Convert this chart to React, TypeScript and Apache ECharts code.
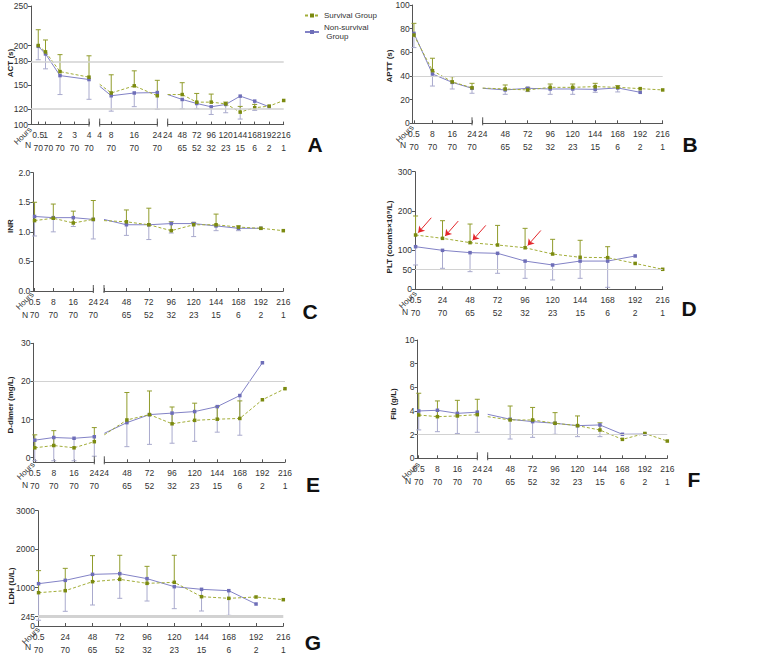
import React, { useEffect, useRef } from "react";
import * as echarts from "echarts";

type Num = number | null;

const SURV = "Survival Group";
const NON = "Non-survival\n Group";

// ---------------- shared time points ----------------
const hoursLate = [24, 48, 72, 96, 120, 144, 168, 192, 216];
const nLate: Num[] = [null, 65, 52, 32, 23, 15, 6, 2, 1];
const hoursEarly = [0.5, 8, 16, 24];
const nEarly: Num[] = [70, 70, 70, 70];
const hoursFull = [0.5, 24, 48, 72, 96, 120, 144, 168, 192, 216];
const nFull: Num[] = [70, 70, 65, 52, 32, 23, 15, 6, 2, 1];

// ---------------- A: ACT (s) ----------------
const hoursA1 = [0.5, 1, 2, 3, 4];
const nA1: Num[] = [70, 70, 70, 70, 70];
const survA1: Num[] = [200, 192, 167, null, 160];
const survHiA1: Num[] = [220, 207, 188.5, null, 187];
const nonA1: Num[] = [199, 189.4, 162, null, 157];
const nonLoA1: Num[] = [182, 170.5, 138, null, 132];

const hoursA2 = [4, 8, 16, 24];
const nA2: Num[] = [null, 70, 70, 70];
const survA2: Num[] = [151, 140, 149, 136.5];
const survHiA2: Num[] = [null, 163, 168, 156];
const nonA2: Num[] = [148.5, 136.5, 140, 140.5];
const nonLoA2: Num[] = [null, 117, 122.7, 119.4];

const survA3: Num[] = [138, 138, 128.4, 128.4, 126.3, 115.8, 121.3, 123.4, 130.5];
const survHiA3: Num[] = [null, 153, 139.4, 138.6, 128.5, 123, 125.5, null, null];
const nonA3: Num[] = [138, 131.8, 126.7, 122.5, 125.5, 136, 129.7, 122.5, null];
const nonLoA3: Num[] = [null, 120, 120, 112.8, 115, 107, 118, null, null];
const yTicksA = [100, 120, 150, 180, 200, 250];
const refA = [120, 180];

// ---------------- B: APTT (s) ----------------
const survB1: Num[] = [74.6, 44.5, 35, 30];
const survHiB1: Num[] = [84.5, 55, 39.4, 33.8];
const nonB1: Num[] = [76, 41.7, 34.6, 29.6];
const nonLoB1: Num[] = [64, 31.5, 29, 25.4];
const survB2: Num[] = [29.8, 29, 28.2, 30.4, 30.4, 31, 30.4, 29.3, 28.2];
const survHiB2: Num[] = [null, 32.4, 30.4, 33.2, 33.2, 33.8, 31.8, null, null];
const nonB2: Num[] = [29.6, 28.2, 29.6, 29, 29, 28.7, 29.9, 26.2, null];
const nonLoB2: Num[] = [null, 24.5, 26.8, 24.5, 24.5, 26.2, 26.5, null, null];
const yTicksB = [0, 20, 40, 60, 80, 100];
const refB = [40];

// ---------------- C: INR ----------------
const survC1: Num[] = [1.19, 1.23, 1.15, 1.21];
const survHiC1: Num[] = [1.5, 1.47, 1.35, 1.53];
const nonC1: Num[] = [1.26, 1.24, 1.24, 1.21];
const nonLoC1: Num[] = [0.93, 1.0, 1.09, 0.88];
const survC2: Num[] = [1.19, 1.17, 1.12, 1.02, 1.12, 1.12, 1.08, 1.06, 1.02];
const survHiC2: Num[] = [null, 1.37, 1.4, 1.17, 1.16, 1.3, 1.1, null, null];
const nonC2: Num[] = [1.21, 1.12, 1.12, 1.14, 1.14, 1.1, 1.06, 1.06, null];
const nonLoC2: Num[] = [null, 0.94, 0.87, 0.98, 0.92, 1.02, 1.02, null, null];
const yTicksC = [0, 0.5, 1, 1.5, 2];
const refC: number[] = [];

// ---------------- D: PLT ----------------
const survD: Num[] = [138.5, 130, 119, 113, 106, 90, 81.6, 80.7, 66, 51];
const survHiD: Num[] = [187, 175, 166.5, 163, 155.5, 127.5, 125, 108.7, null, null];
const nonD: Num[] = [108.7, 99.4, 93.5, 91.8, 72, 62, 72, 72, 85, null];
const nonLoD: Num[] = [62, 53.5, 45, 40.8, 28, 23.8, 28, 5, null, null];
const yTicksD = [0, 50, 100, 200, 300];
const refD = [50];
const arrowHoursD = [0.5, 24, 48, 96];

// ---------------- E: D-dimer ----------------
const survE1: Num[] = [2.6, 3.2, 2.6, 4.2];
const survHiE1: Num[] = [6, 7.1, null, 7.9];
const nonE1: Num[] = [4.6, 5.3, 5.1, 5.5];
const nonLoE1: Num[] = [-0.8, -0.8, -0.8, 0.4];
const survE2: Num[] = [6.0, 9.9, 11.3, 8.9, 9.8, 10.1, 10.3, 15.2, 18.1];
const survHiE2: Num[] = [null, 17.1, 17.5, 13.3, 14.3, 13.4, 14.9, null, null];
const nonE2: Num[] = [6.4, 9.2, 11.3, 11.7, 12.1, 13.4, 16.3, 24.9, null];
const nonLoE2: Num[] = [null, 2.9, 3.5, 3.8, 4.3, 6.7, 5.9, null, null];
const yTicksE = [0, 10, 20, 30];
const refE = [20];

// ---------------- F: Fib ----------------
const survF1: Num[] = [3.66, 3.52, 3.58, 3.69];
const survHiF1: Num[] = [5.5, 4.85, 4.9, 4.99];
const nonF1: Num[] = [4.0, 4.06, 3.8, 3.9];
const nonLoF1: Num[] = [2.4, 2.25, 2.1, 2.2];
const survF2: Num[] = [3.52, 3.24, 3.24, 2.96, 2.76, 2.39, 1.6, 2.1, 1.46];
const survHiF2: Num[] = [null, 4.42, 4.3, 3.86, 3.58, 3.0, null, null, null];
const nonF2: Num[] = [3.72, 3.3, 3.1, 2.96, 2.76, 2.82, 2.03, 2.05, null];
const nonLoF2: Num[] = [null, 1.63, 1.77, 2.03, 1.83, 1.83, null, null, null];
const yTicksF = [0, 2, 4, 6, 8, 10];
const refF = [2];

// ---------------- G: LDH ----------------
const survG: Num[] = [867, 919, 1153, 1214, 1110, 1136, 763, 720, 755, 685];
const survHiG: Num[] = [1440, 1500, 1830, 1840, 1552, 1840, null, null, null, null];
const nonG: Num[] = [1101, 1188, 1344, 1362, 1232, 1023, 954, 919, 572, null];
const nonLoG: Num[] = [150, 382, 546, 720, 650, 451, 390, 278, null, null];
const yTicksG = [0, 245, 1000, 2000, 3000];
const refG = [245];

// ---------------- styling ----------------
const FONT = "Liberation Sans, Arial, sans-serif";
const OLIVE_LINE = "#a2ad38";
const OLIVE_MARK = "#7b8a10";
const PURPLE_LINE = "#8282c6";
const PURPLE_MARK = "#6e6eb8";
const ERR_S = "#909c2c";
const ERR_N = "#a9aacd";
const REF = "#d2d2d2";
const AXIS = "#555";
const TXT = "#333";

interface Seg { hours: number[]; n: Num[]; surv: Num[]; survHi: Num[]; non: Num[]; nonLo: Num[]; }
interface Panel {
  letter: string; yName: string; yMin: number; yMax: number; yTicks: number[]; yDigits: number;
  refs: number[]; refWidth: number; top: number; bottom: number;
  segPx: number[][]; segRange: number[][]; segs: Seg[]; namePos: number[];
  letterPos: number[]; hoursPos: number[]; nPos: number[]; arrows?: number[];
}

const panels: Panel[] = [
  {
    letter: "A", yName: "ACT (s)", yMin: 100, yMax: 250, yTicks: yTicksA, yDigits: 0, refs: refA, refWidth: 1.5,
    top: 6, bottom: 124.6, segPx: [[31, 89], [99.7, 157.3], [167.7, 283.7]], segRange: [[0, 4], [4, 24], [24, 216]],
    segs: [
      { hours: hoursA1, n: nA1, surv: survA1, survHi: survHiA1, non: nonA1, nonLo: nonLoA1 },
      { hours: hoursA2, n: nA2, surv: survA2, survHi: survHiA2, non: nonA2, nonLo: nonLoA2 },
      { hours: hoursLate, n: nLate, surv: survA3, survHi: survHiA3, non: nonA3, nonLo: nonLoA3 },
    ],
    namePos: [10, 63], letterPos: [315, 144], hoursPos: [23, 136], nPos: [28, 145],
  },
  {
    letter: "B", yName: "APTT (s)", yMin: 0, yMax: 100, yTicks: yTicksB, yDigits: 0, refs: refB, refWidth: 1.2,
    top: 5, bottom: 123.3, segPx: [[412.7, 472], [482.7, 662.7]], segRange: [[0, 24], [24, 216]],
    segs: [
      { hours: hoursEarly, n: nEarly, surv: survB1, survHi: survHiB1, non: nonB1, nonLo: nonLoB1 },
      { hours: hoursLate, n: nLate, surv: survB2, survHi: survHiB2, non: nonB2, nonLo: nonLoB2 },
    ],
    namePos: [389, 66], letterPos: [690, 144], hoursPos: [405, 134], nPos: [403, 145],
  },
  {
    letter: "C", yName: "INR", yMin: 0, yMax: 2, yTicks: yTicksC, yDigits: 1, refs: refC, refWidth: 1.2,
    top: 172.7, bottom: 291, segPx: [[33.3, 93.3], [104, 283.3]], segRange: [[0, 24], [24, 216]],
    segs: [
      { hours: hoursEarly, n: nEarly, surv: survC1, survHi: survHiC1, non: nonC1, nonLo: nonLoC1 },
      { hours: hoursLate, n: nLate, surv: survC2, survHi: survHiC2, non: nonC2, nonLo: nonLoC2 },
    ],
    namePos: [10, 226], letterPos: [310, 311], hoursPos: [25, 301], nPos: [25, 315],
  },
  {
    letter: "D", yName: "PLT (counts×10⁹/L)", yMin: 0, yMax: 300, yTicks: yTicksD, yDigits: 0, refs: refD, refWidth: 1.2,
    top: 171.7, bottom: 289.3, segPx: [[415, 662.7]], segRange: [[0, 216]],
    segs: [{ hours: hoursFull, n: nFull, surv: survD, survHi: survHiD, non: nonD, nonLo: nonLoD }],
    namePos: [389, 237], letterPos: [689, 308], hoursPos: [408, 300], nPos: [405, 312], arrows: arrowHoursD,
  },
  {
    letter: "E", yName: "D-dimer (mg/L)", yMin: -1.2, yMax: 30, yTicks: yTicksE, yDigits: 0, refs: refE, refWidth: 1.2,
    top: 343.3, bottom: 462.3, segPx: [[33.5, 94.3], [104.3, 285]], segRange: [[0, 24], [24, 216]],
    segs: [
      { hours: hoursEarly, n: nEarly, surv: survE1, survHi: survHiE1, non: nonE1, nonLo: nonLoE1 },
      { hours: hoursLate, n: nLate, surv: survE2, survHi: survHiE2, non: nonE2, nonLo: nonLoE2 },
    ],
    namePos: [10, 405], letterPos: [313, 484], hoursPos: [26, 471], nPos: [25, 485],
  },
  {
    letter: "F", yName: "Fib (g/L)", yMin: 0, yMax: 10, yTicks: yTicksF, yDigits: 0, refs: refF, refWidth: 1.2,
    top: 340, bottom: 458.3, segPx: [[417.5, 477.3], [487.7, 667.3]], segRange: [[0, 24], [24, 216]],
    segs: [
      { hours: hoursEarly, n: nEarly, surv: survF1, survHi: survHiF1, non: nonF1, nonLo: nonLoF1 },
      { hours: hoursLate, n: nLate, surv: survF2, survHi: survHiF2, non: nonF2, nonLo: nonLoF2 },
    ],
    namePos: [393, 404], letterPos: [694, 479], hoursPos: [411, 471], nPos: [408, 481],
  },
  {
    letter: "G", yName: "LDH (U/L)", yMin: 0, yMax: 3000, yTicks: yTicksG, yDigits: 0, refs: refG, refWidth: 3,
    top: 510.7, bottom: 626, segPx: [[38, 283.3]], segRange: [[0, 216]],
    segs: [{ hours: hoursFull, n: nFull, surv: survG, survHi: survHiG, non: nonG, nonLo: nonLoG }],
    namePos: [11, 586], letterPos: [313, 642], hoursPos: [31, 636], nPos: [28, 647],
  },
];

function errRender(color: string) {
  return (_params: any, api: any) => {
    const x = api.value(0);
    const p1 = api.coord([x, api.value(1)]);
    const p2 = api.coord([x, api.value(2)]);
    return {
      type: "group",
      children: [
        { type: "line", shape: { x1: p1[0], y1: p1[1], x2: p2[0], y2: p2[1] }, style: { stroke: color, lineWidth: 1 } },
        { type: "line", shape: { x1: p2[0] - 2.5, y1: p2[1], x2: p2[0] + 2.5, y2: p2[1] }, style: { stroke: color, lineWidth: 1 } },
      ],
    };
  };
}

function breakRender(_params: any, api: any) {
  const p = api.coord([api.value(0), api.value(1)]);
  return {
    type: "line",
    shape: { x1: p[0], y1: p[1] - 6, x2: p[0], y2: p[1] + 2 },
    style: { stroke: AXIS, lineWidth: 1 },
  };
}

const even = <T,>(a: T[]) => a.filter((_, i) => i % 2 === 0);
const odd = <T,>(a: T[]) => a.filter((_, i) => i % 2 === 1);

function buildOption() {
  const grid: any[] = [];
  const xAxis: any[] = [];
  const yAxis: any[] = [];
  const series: any[] = [];
  const graphic: any[] = [];

  panels.forEach((p) => {
    const gi = grid.length;
    const left = p.segPx[0][0];
    const right = p.segPx[p.segPx.length - 1][1];
    grid.push({ left, top: p.top, width: right - left, height: p.bottom - p.top, outerBoundsMode: "none" });
    const fxi = xAxis.length;
    xAxis.push({ gridIndex: gi, type: "value", min: 0, max: 1, show: false });
    const fyi = yAxis.length;
    const yLabel = (vals: number[]) => ({
      customValues: vals, fontSize: 8.5, color: TXT, margin: 3, fontFamily: FONT,
      hideOverlap: false, showMinLabel: true, showMaxLabel: true,
      formatter: (v: number) => v.toFixed(p.yDigits),
    });
    yAxis.push({
      gridIndex: gi, type: "value", min: p.yMin, max: p.yMax, position: "left",
      axisLine: { show: true, onZero: false, lineStyle: { color: AXIS, width: 1 } },
      axisTick: { show: true, customValues: p.yTicks, length: 3, lineStyle: { color: AXIS } },
      axisLabel: yLabel(even(p.yTicks)),
      splitLine: { show: false },
    });
    yAxis.push({
      gridIndex: gi, type: "value", min: p.yMin, max: p.yMax, position: "left", offset: 0,
      axisLine: { show: false, onZero: false }, axisTick: { show: false },
      axisLabel: yLabel(odd(p.yTicks)),
      splitLine: { show: false },
    });
    series.push({
      type: "line", xAxisIndex: fxi, yAxisIndex: fyi, data: [], silent: true, z: 1,
      markLine: {
        silent: true, symbol: "none", label: { show: false },
        lineStyle: { color: REF, width: p.refWidth, type: "solid" },
        data: p.refs.map((v) => ({ yAxis: v })),
      },
    });

    p.segs.forEach((s, si) => {
      const g = grid.length;
      const [x0, x1] = p.segPx[si];
      const [r0, r1] = p.segRange[si];
      const pxPerHour = (x1 - x0) / (r1 - r0);
      grid.push({ left: x0, top: p.top, width: x1 - x0, height: p.bottom - p.top, outerBoundsMode: "none" });
      const xLabel = (vals: number[]) => ({
        customValues: vals, fontSize: 8.5, color: TXT, margin: 4, lineHeight: 13, fontFamily: FONT,
        hideOverlap: false, showMinLabel: true, showMaxLabel: true,
        rich: {
          n: { fontSize: 8.5, lineHeight: 13, color: TXT, fontFamily: FONT },
          nr: { fontSize: 8.5, lineHeight: 13, color: TXT, fontFamily: FONT, padding: [0, 0, 0, 6] },
        },
        formatter: (v: number) => {
          const i = s.hours.indexOf(v);
          const n = i >= 0 ? s.n[i] : null;
          if (n == null) return String(v);
          const tight = i > 0 && s.n[i - 1] != null && (v - s.hours[i - 1]) * pxPerHour < 10;
          return String(v) + "\n{" + (tight ? "nr" : "n") + "|" + n + "}";
        },
      });
      const xi = xAxis.length;
      xAxis.push({
        gridIndex: g, type: "value", min: r0, max: r1, position: "bottom",
        axisLine: { show: true, onZero: false, lineStyle: { color: AXIS, width: 1 } },
        axisTick: { show: true, inside: true, customValues: s.hours, length: 3, lineStyle: { color: AXIS } },
        axisLabel: xLabel(even(s.hours)),
        splitLine: { show: false },
      });
      xAxis.push({
        gridIndex: g, type: "value", min: r0, max: r1, position: "bottom", offset: 0,
        axisLine: { show: false, onZero: false }, axisTick: { show: false },
        axisLabel: xLabel(odd(s.hours)),
        splitLine: { show: false },
      });
      const yi = yAxis.length;
      yAxis.push({ gridIndex: g, type: "value", min: p.yMin, max: p.yMax, show: false });

      const errS: number[][] = [];
      const errN: number[][] = [];
      s.hours.forEach((h, i) => {
        const sv = s.surv[i], sh = s.survHi[i], nv = s.non[i], nl = s.nonLo[i];
        if (sv != null && sh != null) errS.push([h, sv, sh]);
        if (nv != null && nl != null) errN.push([h, nv, nl]);
      });
      series.push({
        type: "custom", xAxisIndex: xi, yAxisIndex: yi, silent: true, clip: false, z: 2,
        data: errN, encode: { x: 0, y: [1, 2] }, renderItem: errRender(ERR_N),
      });
      series.push({
        type: "custom", xAxisIndex: xi, yAxisIndex: yi, silent: true, clip: false, z: 2,
        data: errS, encode: { x: 0, y: [1, 2] }, renderItem: errRender(ERR_S),
      });

      const pts = (arr: Num[]) =>
        s.hours
          .map((h, i) => (arr[i] == null ? null : { value: [h, arr[i]], symbolSize: s.n[i] == null ? 0 : 3.5 }))
          .filter((d) => d != null);

      series.push({
        type: "line", name: NON, xAxisIndex: xi, yAxisIndex: yi, data: pts(s.non), z: 3,
        symbol: "rect", symbolSize: 3.5, itemStyle: { color: PURPLE_MARK },
        lineStyle: { color: PURPLE_LINE, width: 1, type: "solid" }, silent: true,
      });

      const survSeries: any = {
        type: "line", name: SURV, xAxisIndex: xi, yAxisIndex: yi, data: pts(s.surv), z: 4,
        symbol: "rect", symbolSize: 3.5, itemStyle: { color: OLIVE_MARK },
        lineStyle: { color: OLIVE_LINE, width: 1, type: [3, 2] }, silent: true,
      };
      if (p.arrows) {
        survSeries.markLine = {
          silent: true, symbol: ["none", "arrow"], symbolSize: 6, label: { show: false },
          lineStyle: { color: "#e3262b", width: 1, type: "solid", opacity: 1 },
          data: p.arrows.map((h) => {
            const y = s.surv[s.hours.indexOf(h)] as number;
            return [{ coord: [h + 13.7, y + 44] }, { coord: [h + 2.3, y + 6] }];
          }),
        };
      }
      series.push(survSeries);

      const brk: number[][] = [];
      if (si > 0) brk.push([r0, p.yMin]);
      if (si < p.segs.length - 1) brk.push([r1, p.yMin]);
      if (brk.length) {
        series.push({
          type: "custom", xAxisIndex: xi, yAxisIndex: yi, silent: true, clip: false, z: 5,
          data: brk, encode: { x: 0, y: 1 }, renderItem: breakRender,
        });
      }
    });

    graphic.push({
      type: "text", x: p.namePos[0], y: p.namePos[1], rotation: Math.PI / 2,
      style: { text: p.yName, fontSize: 8, fontWeight: "bold", fill: "#222", fontFamily: FONT, align: "center", verticalAlign: "middle" },
    });
    graphic.push({
      type: "text", x: p.letterPos[0], y: p.letterPos[1],
      style: { text: p.letter, fontSize: 21, fontWeight: "bold", fill: "#111", fontFamily: FONT, align: "center", verticalAlign: "middle" },
    });
    graphic.push({
      type: "text", x: p.hoursPos[0], y: p.hoursPos[1], rotation: Math.PI / 4,
      style: { text: "Hours", fontSize: 8, fill: TXT, fontFamily: FONT, align: "center", verticalAlign: "middle" },
    });
    graphic.push({
      type: "text", x: p.nPos[0], y: p.nPos[1],
      style: { text: "N", fontSize: 8.5, fill: TXT, fontFamily: FONT, align: "center", verticalAlign: "middle" },
    });
  });

  return {
    animation: false,
    backgroundColor: "#ffffff",
    textStyle: { fontFamily: FONT },
    legend: {
      orient: "vertical", left: 299, top: 6, itemWidth: 14, itemHeight: 5, itemGap: 3,
      data: [SURV, NON], selectedMode: false,
      textStyle: { fontSize: 8, color: TXT, lineHeight: 9, fontFamily: FONT },
    },
    grid, xAxis, yAxis, series, graphic,
  };
}

export default function App() {
  const ref = useRef<HTMLDivElement>(null);
  useEffect(() => {
    document.body.style.margin = "0";
    if (!ref.current) return;
    const chart = echarts.init(ref.current, undefined, { renderer: "svg" });
    chart.setOption(buildOption() as any);
    return () => chart.dispose();
  }, []);
  return <div ref={ref} style={{ position: "absolute", left: 0, top: 0, width: 777, height: 655 }} />;
}
